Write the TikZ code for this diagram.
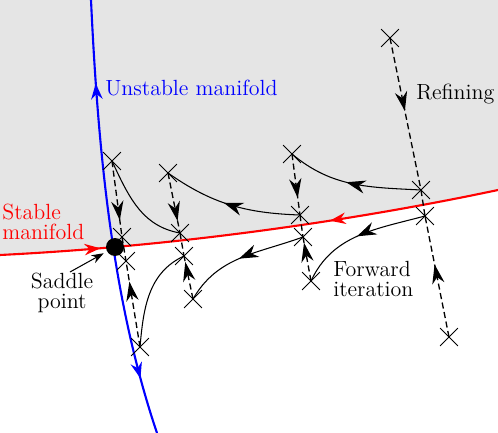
\documentclass[tikz,border=0pt]{standalone}
\usetikzlibrary{arrows.meta,decorations.markings,shapes.misc}

\begin{document}
\begin{tikzpicture}[x=0.02cm, y=-0.02cm,
    xmark/.style={draw, cross out, minimum size=0.34cm, inner sep=0pt, line width=0.5pt},
    dashes/.style={line width=0.75pt, dash pattern=on 3.5pt off 2pt},
    refine/.style={dashes, postaction={decorate}, decoration={markings,
        mark=at position #1 with {\arrow{Stealth[length=11pt,width=7pt]}}}},
    iterate/.style={line width=0.6pt, postaction={decorate}, decoration={markings,
        mark=at position #1 with {\arrow{Stealth[length=11pt,width=7.5pt]}}}},
    txt/.style={inner sep=0pt, font=\fontsize{12.5}{11.5}\selectfont}]
        \useasboundingbox (0,0) rectangle (498,433);
        % region above the stable manifold
        \fill[gray!20] (0,0) -- (498,0) -- (498,190) .. controls (380,215) and (200,245) .. (0,255) -- cycle;

        % manifolds
        \draw[red, line width=1.2pt, postaction={decorate}, decoration={markings,
            mark=at position 0.2 with {\arrow{Stealth[length=9pt,width=6.5pt]}},
            mark=at position 0.66 with {\arrowreversed{Stealth[length=9pt,width=6.5pt]}}}]
            (0,255) .. controls (200,245) and (380,215) .. (498,190);
        \draw[blue, line width=1.2pt, postaction={decorate}, decoration={markings,
            mark=at position 0.19 with {\arrowreversed{Stealth[length=9pt,width=6.5pt]}},
            mark=at position 0.87 with {\arrow{Stealth[length=9pt,width=6.5pt]}}}]
            (91,0) .. controls (98,150) and (112,300) .. (157,433);
        \node[circle, fill, minimum size=0.36cm, inner sep=0pt] (saddle) at (115,247) {};

        % points
        \node[xmark] (a1) at (112,161) {};
        \node[xmark] (a2) at (122,237) {};
        \node[xmark] (a3) at (126,261) {};
        \node[xmark] (a4) at (140,347) {};
        \node[xmark] (b1) at (168,173) {};
        \node[xmark] (b2) at (180,233) {};
        \node[xmark] (b3) at (184,256) {};
        \node[xmark] (b4) at (193,299) {};
        \node[xmark] (c1) at (292,154) {};
        \node[xmark] (c2) at (300,215) {};
        \node[xmark] (c3) at (303,237) {};
        \node[xmark] (c4) at (311,281) {};
        \node[xmark] (d1) at (390,38) {};
        \node[xmark] (d2) at (421,190) {};
        \node[xmark] (d3) at (425,216) {};
        \node[xmark] (d4) at (449,337) {};

        % refining
        \draw[refine=0.78] (a1.center) -- (a2.center);
        \draw[dashes] (a2.center) -- (a3.center);
        \draw[refine=0.76] (a4.center) -- (a3.center);
        \draw[refine=0.8] (b1.center) -- (b2.center);
        \draw[dashes] (b2.center) -- (b3.center);
        \draw[refine=0.86] (b4.center) -- (b3.center);
        \draw[refine=0.72] (c1.center) -- (c2.center);
        \draw[dashes] (c2.center) -- (c3.center);
        \draw[refine=0.87] (c4.center) -- (c3.center);
        \draw[refine=0.48] (d1.center) -- (d2.center);
        \draw[dashes] (d2.center) -- (d3.center);
        \draw[refine=0.6] (d4.center) -- (d3.center);

        % forward iteration
        \draw[iterate=0.55] (d2.center) to[out=177, in=-40] (c1.center);
        \draw[iterate=0.55] (c2.center) to[out=178, in=-35] (b1.center);
        \draw[line width=0.6pt] (b2.center) to[out=170, in=-65] (a1.center);
        \draw[iterate=0.52] (d3.center) to[out=195, in=65] (c4.center);
        \draw[iterate=0.52] (c3.center) to[out=200, in=60] (b4.center);
        \draw[line width=0.6pt] (b3.center) to[out=205, in=85] (a4.center);

        % text
        \node[txt, blue, anchor=west] (unstable) at (105,88) {Unstable manifold};
        \node[txt, red, anchor=west, align=left] (stable) at (2,222) {Stable\\manifold};
        \node[txt, align=center] (saddlelabel) at (62,293) {Saddle\\point};
        \coordinate (saddletail) at (70,272);
        \draw[-{Stealth[length=7pt,width=5pt]}, line width=0.6pt, shorten >=2pt] (saddletail) -- (saddle);
        \node[txt, anchor=west] (refining) at (416,94) {Refining};
        \node[txt, anchor=west, align=left] (forward) at (333,279) {Forward\\iteration};
    \end{tikzpicture}
\end{document}
